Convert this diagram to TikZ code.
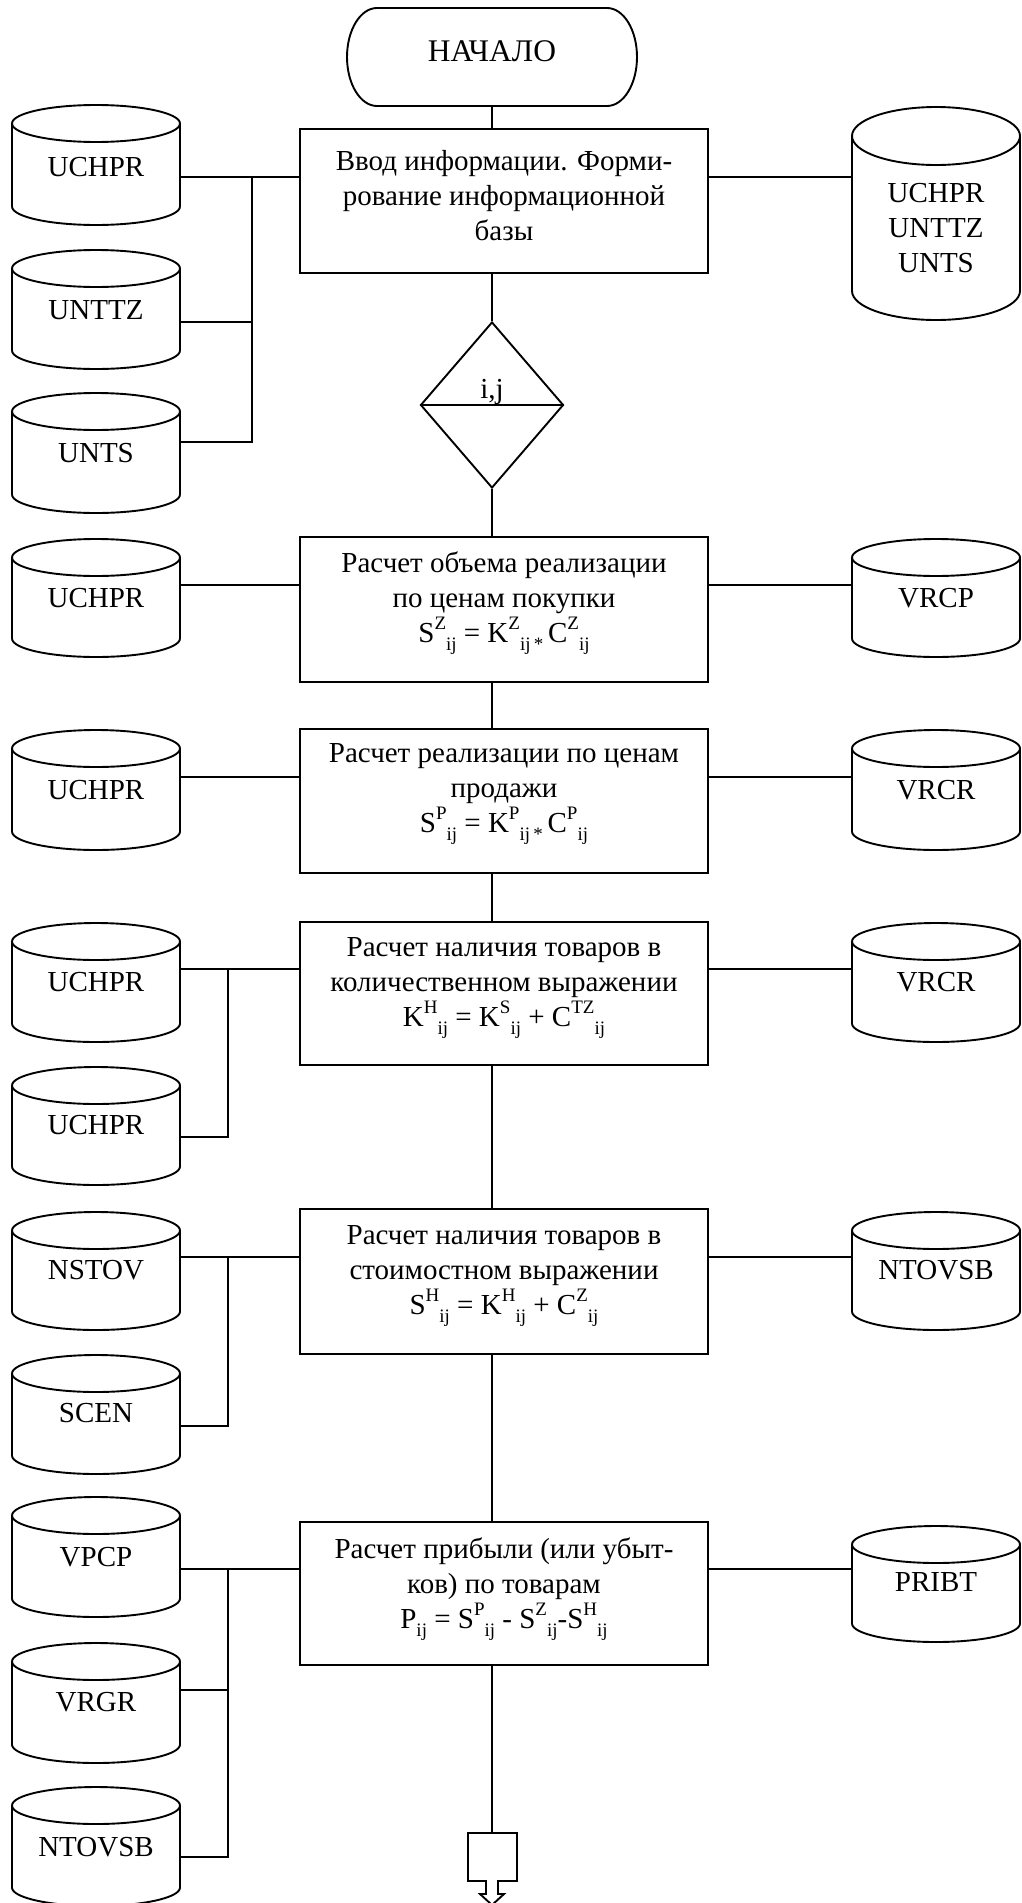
\documentclass[tikz,border=0pt]{standalone}
\usepackage{fontspec}
\setmainfont{Liberation Serif}
\usetikzlibrary{shapes.geometric}
\newcommand\scrsz{\fontsize{19}{19}\selectfont}
\newcommand\sps[2]{\raisebox{0.42em}{\scrsz #1}\raisebox{-0.3em}{\scrsz #2}}
\newcommand\sbs[1]{\raisebox{-0.3em}{\scrsz #1}}
\tikzset{
  ln/.style={line width=1.9pt},
  procbox/.style={draw, line width=1.9pt, minimum width=408pt, minimum height=#1, inner sep=0pt},
  txt/.style={font=\fontsize{29}{35}\selectfont, align=center, inner sep=0pt},
  anchorbox/.style={minimum width=168pt, minimum height=#1, inner sep=0pt},
}
% cylinder: #1 name, #2 cx, #3 top, #4 bottom, #5 ry, #6 port y, #7 text y, #8 text
\newcommand\dbc[8]{%
  \draw[ln] (#2-84,#3+#5) -- (#2-84,#4-#5) arc[start angle=180,end angle=360,x radius=84pt,y radius=#5pt] -- (#2+84,#3+#5);
  \draw[ln] (#2,#3+#5) ellipse[x radius=84pt,y radius=#5pt];
  \node[anchorbox=#4pt-#3pt] (#1) at (#2,{(#3+#4)/2}) {};
  \coordinate (#1-e) at (#2+84,#6);
  \coordinate (#1-w) at (#2-84,#6);
  \node[txt] (#1-t) at (#2,#7) {#8};
}
\begin{document}
\begin{tikzpicture}[x=1pt,y=-1pt]
\useasboundingbox (0,0) rectangle (1021,1903);
\coordinate (ax) at (492,0);
% terminal
\draw[ln] (377,8) -- (607,8) arc[start angle=90,end angle=-90,x radius=30pt,y radius=49pt] -- (377,106) arc[start angle=270,end angle=90,x radius=30pt,y radius=49pt] -- cycle;
\node[minimum width=290pt, minimum height=98pt, inner sep=0pt] (start) at (492,57) {};
\node[txt, font=\fontsize{31.5}{36}\selectfont] (startt) at (492,51) {НАЧАЛО};
% process boxes
\node[procbox=144pt] (B1) at (504,201) {};
\node[txt] (B1t) at (504,196) {Ввод информации. Форми-\\рование информационной\\базы};
\node[procbox=145pt] (B2) at (504,609.5) {};
\node[txt] (B2t) at (504,603) {Расчет объема реализации\\по ценам покупки\\S\sps{Z}{ij} = K\sps{Z}{ij\,*}\,C\sps{Z}{ij}};
\node[procbox=144pt] (B3) at (504,801) {};
\node[txt] (B3t) at (504,794) {Расчет реализации по ценам\\продажи\\S\sps{P}{ij} = K\sps{P}{ij\,*}\,C\sps{P}{ij}};
\node[procbox=143pt] (B4) at (504,993.5) {};
\node[txt] (B4t) at (504,988) {Расчет наличия товаров в\\количественном выражении\\K\sps{H}{ij} = K\sps{S}{ij} + C\sps{TZ}{ij}};
\node[procbox=145pt] (B5) at (504,1281.5) {};
\node[txt] (B5t) at (504,1276) {Расчет наличия товаров в\\стоимостном выражении\\S\sps{H}{ij} = K\sps{H}{ij} + C\sps{Z}{ij}};
\node[procbox=143pt] (B6) at (504,1593.5) {};
\node[txt] (B6t) at (504,1589) {Расчет прибыли (или убыт-\\ков) по товарам\\P\sbs{ij} = S\sps{P}{ij} - S\sps{Z}{ij}-S\sps{H}{ij}};
% decision
\node[draw, ln, diamond, minimum width=143pt, minimum height=166pt, inner sep=0pt] (dia) at (492,405) {};
\draw[ln] (dia.west) -- (dia.east);
\node[txt, anchor=base] (diat) at (492,398) {i,j};
% main axis
\draw[ln] (start.south) -- (start.south |- B1.north);
\draw[ln] (ax |- B1.south) -- (dia.north);
\draw[ln] (dia.south) -- (ax |- B2.north);
\draw[ln] (ax |- B2.south) -- (ax |- B3.north);
\draw[ln] (ax |- B3.south) -- (ax |- B4.north);
\draw[ln] (ax |- B4.south) -- (ax |- B5.north);
\draw[ln] (ax |- B5.south) -- (ax |- B6.north);
\coordinate (off) at (492,1833);
\draw[ln] (ax |- B6.south) -- (off);
\draw[ln] (468,1833) -- (517,1833) -- (517,1881) -- (498,1881) -- (498,1894) -- (504,1894) -- (492,1905) -- (480,1894) -- (486,1894) -- (486,1881) -- (468,1881) -- cycle;
% cylinders left
\dbc{L1}{96}{105}{225}{18.5}{177}{167}{UCHPR}
\dbc{L2}{96}{250}{369}{18.5}{322}{310}{UNTTZ}
\dbc{L3}{96}{393}{513}{18.5}{442}{453}{UNTS}
\dbc{L4}{96}{539}{657}{18.5}{585}{598}{UCHPR}
\dbc{L5}{96}{730}{850}{18.5}{777}{790}{UCHPR}
\dbc{L6}{96}{923}{1042}{18.5}{969}{982}{UCHPR}
\dbc{L7}{96}{1067}{1185}{18.5}{1137}{1125}{UCHPR}
\dbc{L8}{96}{1212}{1330}{18.5}{1257}{1270}{NSTOV}
\dbc{L9}{96}{1355}{1474}{18.5}{1426}{1413}{SCEN}
\dbc{L10}{96}{1497}{1617}{18.5}{1569}{1557}{VPCP}
\dbc{L11}{96}{1643}{1763}{18.5}{1690}{1702}{VRGR}
\dbc{L12}{96}{1787}{1906}{18.5}{1857}{1847}{NTOVSB}
% cylinders right
\dbc{R1}{936}{107}{320}{29}{177}{228}{\fontsize{29}{32}\selectfont UCHPR\\UNTTZ\\UNTS}
\dbc{R2}{936}{539}{657}{18.5}{585}{598}{VRCP}
\dbc{R3}{936}{730}{850}{18.5}{777}{790}{VRCR}
\dbc{R4}{936}{923}{1042}{18.5}{969}{982}{VRCR}
\dbc{R5}{936}{1212}{1330}{18.5}{1257}{1270}{NTOVSB}
\dbc{R6}{936}{1526}{1642}{18.5}{1569}{1582}{PRIBT}
% connectors group 1
\coordinate (bus1) at (252,177);
\draw[ln] (L1-e) -- (L1-e -| B1.west);
\draw[ln] (L2-e) -- (L2-e -| bus1);
\draw[ln] (L3-e) -| (bus1);
\draw[ln] (B1.east |- R1-w) -- (R1-w);
% group 2,3
\draw[ln] (L4-e) -- (L4-e -| B2.west);
\draw[ln] (B2.east |- R2-w) -- (R2-w);
\draw[ln] (L5-e) -- (L5-e -| B3.west);
\draw[ln] (B3.east |- R3-w) -- (R3-w);
% group 4
\coordinate (bus2) at (228,969);
\draw[ln] (L6-e) -- (L6-e -| B4.west);
\draw[ln] (L7-e) -| (bus2);
\draw[ln] (B4.east |- R4-w) -- (R4-w);
% group 5
\coordinate (bus3) at (228,1257);
\draw[ln] (L8-e) -- (L8-e -| B5.west);
\draw[ln] (L9-e) -| (bus3);
\draw[ln] (B5.east |- R5-w) -- (R5-w);
% group 6
\coordinate (bus4) at (228,1569);
\draw[ln] (L10-e) -- (L10-e -| B6.west);
\draw[ln] (L11-e) -- (L11-e -| bus4);
\draw[ln] (L12-e) -| (bus4);
\draw[ln] (B6.east |- R6-w) -- (R6-w);
\end{tikzpicture}
\end{document}
